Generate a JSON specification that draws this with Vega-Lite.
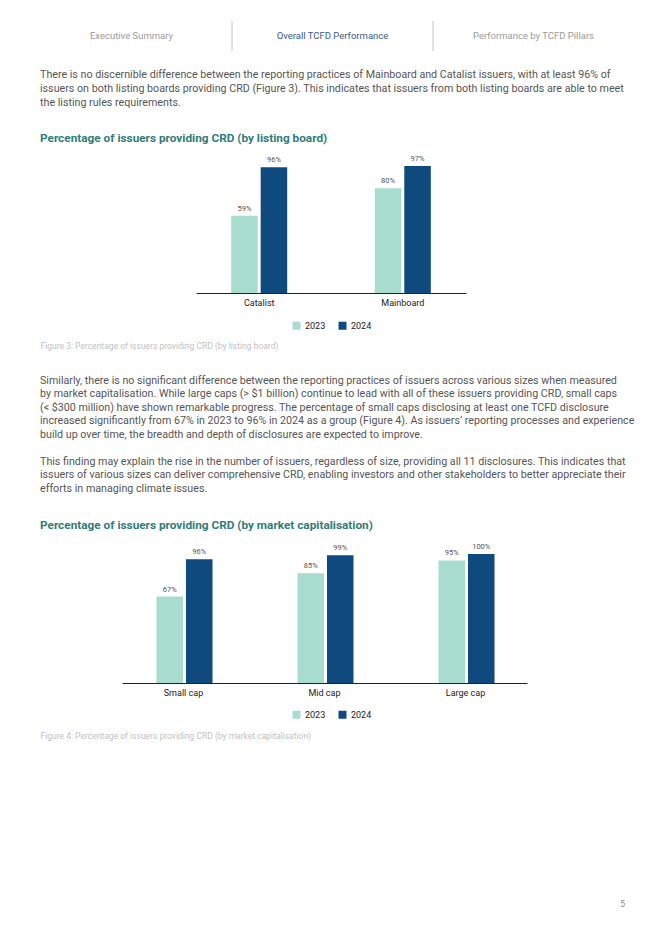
{
  "$schema": "https://vega.github.io/schema/vega-lite/v6.json",
  "background": "white",
  "padding": {"left": 40, "top": 20, "right": 40, "bottom": 0},
  "spacing": 24,
  "resolve": {"scale": {"color": "independent"}, "legend": {"color": "independent"}},
  "config": {
    "view": {"stroke": null},
    "font": "Roboto",
    "axisX": {
      "domainColor": "#222222", "domainWidth": 1, "ticks": false, "grid": false,
      "labelFont": "Roboto", "labelFontSize": 9, "labelColor": "#222222", "labelPadding": 5, "labelAngle": 0,
      "titleFont": "Roboto", "titleFontSize": 8.5, "titleColor": "#c2c2c2", "titleFontWeight": "normal",
      "titleX": 0, "titleAlign": "left", "titleBaseline": "middle", "titleAnchor": "start"
    },
    "legend": {
      "orient": "none", "direction": "horizontal", "symbolType": "square", "symbolSize": 64,
      "symbolStrokeWidth": 0, "labelFont": "Roboto", "labelFontSize": 9, "labelColor": "#222222",
      "columnPadding": 12, "padding": 0, "title": null
    },
    "title": {
      "anchor": "start", "frame": "group", "font": "Roboto", "fontSize": 10.7,
      "fontWeight": "normal", "color": "#555555", "lineHeight": 14,
      "subtitleFont": "Roboto", "subtitleFontSize": 11.8, "subtitleFontWeight": "bold",
      "subtitleColor": "#2e7d79", "subtitlePadding": 15, "offset": 12
    }
  },
  "vconcat": [
    {
      "width": 582,
      "height": 30,
      "title": {
        "text": [
          "There is no discernible difference between the reporting practices of Mainboard and Catalist issuers, with at least 96% of",
          "issuers on both listing boards providing CRD (Figure 3). This indicates that issuers from both listing boards are able to meet",
          "the listing rules requirements."
        ],
        "orient": "bottom",
        "offset": 19
      },
      "data": {"values": [
        {"section": "Executive Summary", "active": false},
        {"section": "Overall TCFD Performance", "active": true},
        {"section": "Performance by TCFD Pillars", "active": false}
      ]},
      "layer": [
        {
          "transform": [{"filter": "datum.section !== 'Executive Summary'"}],
          "mark": {"type": "rule", "color": "#b5b5b5", "strokeWidth": 0.8},
          "encoding": {
            "x": {"field": "section", "type": "nominal",
                  "sort": ["Executive Summary", "Overall TCFD Performance", "Performance by TCFD Pillars"],
                  "bandPosition": 0,
                  "scale": {"domain": ["Executive Summary", "Overall TCFD Performance", "Performance by TCFD Pillars"],
                            "range": [-9, 594], "paddingInner": 0, "paddingOuter": 0}, "axis": null}
          }
        },
        {
          "mark": {"type": "text", "fontSize": 9.5, "font": "Roboto"},
          "encoding": {
            "x": {"field": "section", "type": "nominal",
                  "sort": ["Executive Summary", "Overall TCFD Performance", "Performance by TCFD Pillars"], "axis": null},
            "text": {"field": "section"},
            "color": {"condition": {"test": "datum.active", "value": "#3a5a8a"}, "value": "#9a9a9a"}
          }
        }
      ]
    },
    {
      "width": 582,
      "height": 131,
      "title": {
        "text": "Percentage of issuers providing CRD (by listing board)",
        "fontSize": 11.8, "fontWeight": "bold", "color": "#2e7d79", "offset": 10
      },
      "data": {"values": [
        {"board": "Catalist", "year": "2023", "share": 0.59},
        {"board": "Catalist", "year": "2024", "share": 0.96},
        {"board": "Mainboard", "year": "2023", "share": 0.80},
        {"board": "Mainboard", "year": "2024", "share": 0.97}
      ]},
      "layer": [
        {
          "mark": {"type": "bar"},
          "encoding": {
            "x": {"field": "board", "type": "nominal", "sort": null,
                  "scale": {"range": [156, 426], "paddingInner": 0.61, "paddingOuter": 0.245},
                  "axis": {"title": "Figure 3: Percentage of issuers providing CRD (by listing board)", "titleY": 52}},
            "xOffset": {"field": "year", "type": "nominal", "scale": {"paddingInner": 0.1, "paddingOuter": 0}},
            "y": {"field": "share", "type": "quantitative", "scale": {"domain": [0, 1]}, "axis": null},
            "color": {"field": "year", "type": "nominal",
                      "scale": {"domain": ["2023", "2024"], "range": ["#a8dccf", "#0f4a7e"]},
                      "legend": {"legendX": 252, "legendY": 159}}
          }
        },
        {
          "mark": {"type": "text", "baseline": "bottom", "dy": -3, "fontSize": 7.5, "font": "Roboto", "color": "#555555"},
          "encoding": {
            "x": {"field": "board", "type": "nominal", "sort": null},
            "xOffset": {"field": "year", "type": "nominal"},
            "y": {"field": "share", "type": "quantitative"},
            "text": {"field": "share", "type": "quantitative", "format": ".0%"}
          }
        }
      ]
    },
    {
      "width": 582,
      "height": 129,
      "title": {
        "text": [
          "Similarly, there is no significant difference between the reporting practices of issuers across various sizes when measured",
          "by market capitalisation. While large caps (> $1 billion) continue to lead with all of these issuers providing CRD, small caps",
          "(< $300 million) have shown remarkable progress. The percentage of small caps disclosing at least one TCFD disclosure",
          "increased significantly from 67% in 2023 to 96% in 2024 as a group (Figure 4). As issuers’ reporting processes and experience",
          "build up over time, the breadth and depth of disclosures are expected to improve.",
          "\u2800",
          "This finding may explain the rise in the number of issuers, regardless of size, providing all 11 disclosures. This indicates that",
          "issuers of various sizes can deliver comprehensive CRD, enabling investors and other stakeholders to better appreciate their",
          "efforts in managing climate issues."
        ],
        "lineHeight": 13.5,
        "subtitle": "Percentage of issuers providing CRD (by market capitalisation)",
        "subtitlePadding": 26,
        "offset": 10
      },
      "data": {"values": [
        {"cap": "Small cap", "year": "2023", "share": 0.67},
        {"cap": "Small cap", "year": "2024", "share": 0.96},
        {"cap": "Mid cap", "year": "2023", "share": 0.85},
        {"cap": "Mid cap", "year": "2024", "share": 0.99},
        {"cap": "Large cap", "year": "2023", "share": 0.95},
        {"cap": "Large cap", "year": "2024", "share": 1.00}
      ]},
      "layer": [
        {
          "mark": {"type": "bar"},
          "encoding": {
            "x": {"field": "cap", "type": "nominal", "sort": null,
                  "scale": {"range": [82, 487], "paddingInner": 0.617, "paddingOuter": 0.2445},
                  "axis": {"title": "Figure 4: Percentage of issuers providing CRD (by market capitalisation)", "titleY": 52}},
            "xOffset": {"field": "year", "type": "nominal", "scale": {"paddingInner": 0.1, "paddingOuter": 0}},
            "y": {"field": "share", "type": "quantitative", "scale": {"domain": [0, 1]}, "axis": null},
            "color": {"field": "year", "type": "nominal",
                      "scale": {"domain": ["2023", "2024"], "range": ["#a8dccf", "#0f4a7e"]},
                      "legend": {"legendX": 252, "legendY": 156}}
          }
        },
        {
          "mark": {"type": "text", "baseline": "bottom", "dy": -3, "fontSize": 7.5, "font": "Roboto", "color": "#555555"},
          "encoding": {
            "x": {"field": "cap", "type": "nominal", "sort": null},
            "xOffset": {"field": "year", "type": "nominal"},
            "y": {"field": "share", "type": "quantitative"},
            "text": {"field": "share", "type": "quantitative", "format": ".0%"}
          }
        }
      ]
    },
    {
      "width": 582,
      "height": 140,
      "data": {"values": [{"page": "5"}]},
      "mark": {"type": "text", "align": "right", "baseline": "middle", "fontSize": 8.5, "color": "#888888", "dx": 3},
      "encoding": {
        "x": {"value": "width"},
        "y": {"value": "height"},
        "text": {"field": "page"}
      }
    }
  ]
}
